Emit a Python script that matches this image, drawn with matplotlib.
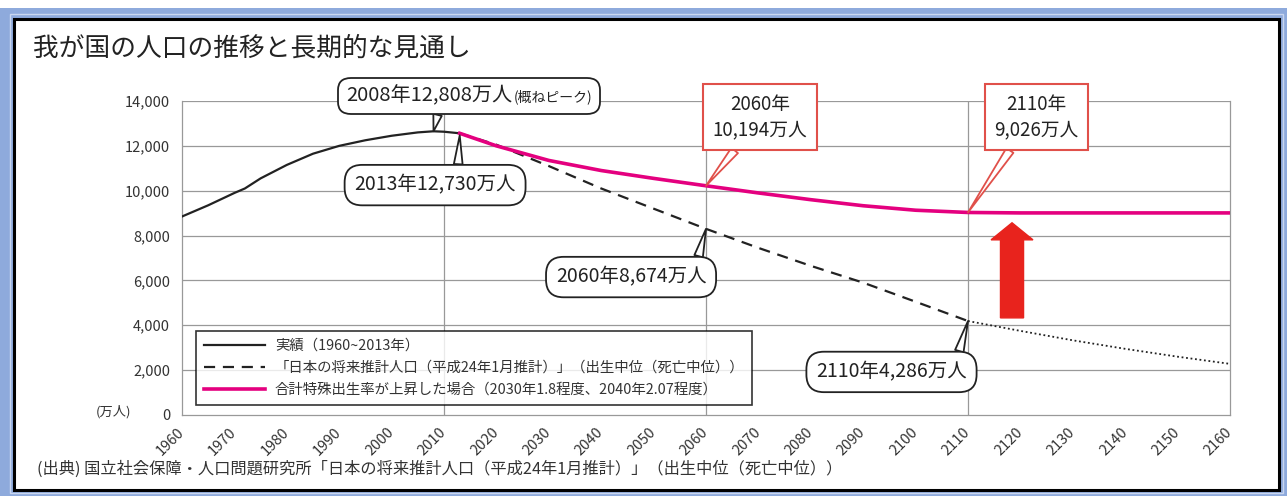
import matplotlib
matplotlib.use("Agg")
import matplotlib.pyplot as plt
from matplotlib.patches import Rectangle, FancyArrow
from matplotlib.offsetbox import TextArea, HPacker, AnnotationBbox
from matplotlib.ticker import FuncFormatter

plt.rcParams['font.family'] = ['Noto Sans CJK JP', 'DejaVu Sans']

# data (万人)
years_actual = [1960, 1965, 1970, 1972, 1975, 1980, 1985, 1990, 1995, 2000, 2005, 2008, 2010, 2013]
pop_actual = [8850, 9350, 9900, 10100, 10550, 11150, 11650, 12000, 12250, 12450, 12600, 12650, 12630, 12560]

years_proj = [2013, 2020, 2030, 2040, 2050, 2060, 2070, 2080, 2090, 2100, 2110]
pop_proj = [12560, 12050, 11100, 10100, 9200, 8300, 7450, 6650, 5900, 5050, 4190]

years_ext = [2110, 2120, 2130, 2140, 2150, 2160]
pop_ext = [4190, 3750, 3330, 2950, 2600, 2280]

years_up = [2013, 2020, 2030, 2040, 2050, 2060, 2070, 2080, 2090, 2100, 2110, 2120, 2130, 2140, 2150, 2160]
pop_up = [12560, 12000, 11350, 10900, 10550, 10220, 9900, 9600, 9330, 9130, 9030, 9010, 9010, 9010, 9010, 9010]

legend_labels = ["実績（1960~2013年）",
                 "「日本の将来推計人口（平成24年1月推計）」（出生中位（死亡中位））",
                 "合計特殊出生率が上昇した場合（2030年1.8程度、2040年2.07程度）"]

W, H = 1287, 496
fig = plt.figure(figsize=(W / 100, H / 100), dpi=100)


def fx(px):
    return px / W


def fy(py):
    return 1 - py / H


# frame: blue outer, black inner
fig.patches.append(Rectangle((0, fy(496)), 1, fy(8) - fy(496), transform=fig.transFigure,
                             facecolor='#8eaadc', edgecolor='none', zorder=0))
fig.patches.append(Rectangle((fx(10), fy(493)), fx(1283) - fx(10), fy(14) - fy(493), transform=fig.transFigure,
                             facecolor='none', edgecolor='#c9d6ef', lw=1, zorder=1))
fig.patches.append(Rectangle((fx(14), fy(490)), fx(1279) - fx(14), fy(19) - fy(490), transform=fig.transFigure,
                             facecolor='white', edgecolor='black', lw=2.2, zorder=2))

ax = fig.add_axes([fx(182), fy(415), fx(1230) - fx(182), fy(101) - fy(415)])
ax.set_zorder(3)
ax.set_facecolor('white')

l_act, = ax.plot(years_actual, pop_actual, color='#222222', lw=1.6, zorder=4)
l_proj, = ax.plot(years_proj, pop_proj, color='#222222', lw=1.6, ls=(0, (5, 3.5)), zorder=4)
ax.plot(years_ext, pop_ext, color='#222222', lw=1.3, ls=(0, (1, 1.5)), zorder=4)
l_up, = ax.plot(years_up, pop_up, color='#e4007f', lw=2.6, zorder=5)

ax.set_xlim(1960, 2160)
ax.set_ylim(0, 14000)
ax.set_xticks(range(1960, 2161, 10))
ax.set_yticks(range(0, 14001, 2000))
ax.yaxis.set_major_formatter(FuncFormatter(lambda v, p: f"{int(v):,}"))
ax.tick_params(length=0)
ax.tick_params(axis='y', pad=8.6, labelsize=10.5, labelcolor='#333333')
ax.tick_params(axis='x', pad=11, labelsize=10.5, labelcolor='#333333')
for lab in ax.get_xticklabels():
    lab.set_rotation(45)
    lab.set_ha('right')
    lab.set_va('center')
    lab.set_rotation_mode('anchor')

for v in range(2000, 14001, 2000):
    ax.axhline(v, color='#999999', lw=0.9, zorder=1)
for yr in [2010, 2060, 2110]:
    ax.axvline(yr, color='#999999', lw=0.9, zorder=1)
for s in ax.spines.values():
    s.set_color('#999999')
    s.set_linewidth(0.9)
ax.spines['top'].set_visible(False)

# legend
leg = ax.legend([l_act, l_proj, l_up], legend_labels, loc='upper left', bbox_to_anchor=(0.0134, 0.2675),
                borderaxespad=0, frameon=True, fancybox=False, edgecolor='black', fontsize=10.4,
                handlelength=4.2, labelspacing=0.55, borderpad=0.55, handletextpad=0.7)
leg.get_frame().set_linewidth(1.2)
leg.set_zorder(6)
for t in leg.get_texts():
    t.set_color('#333333')

# red arrow
ax.add_patch(FancyArrow(2118.4, 4330, 0, 4240, width=4.4, head_width=8.0, head_length=760,
                        length_includes_head=True, color='#e8231d', zorder=6))

# black rounded callouts
black_box = dict(boxstyle='round,pad=0.5,rounding_size=0.9', fc='white', ec='#222222', lw=1.3)


def wedge(color, rel):
    return dict(arrowstyle='wedge,tail_width=0.45', fc='white', ec=color, lw=1.3,
                relpos=rel, shrinkA=0, shrinkB=0)


pack = HPacker(children=[TextArea("2008年12,808万人", textprops=dict(size=14.5, color='#222222')),
                         TextArea("(概ねピーク)", textprops=dict(size=10, color='#222222'))],
               align='baseline', pad=0, sep=1)
ab = AnnotationBbox(pack, (2008, 12650), xybox=(2014.8, 14220), xycoords='data', boxcoords='data',
                    bboxprops=dict(boxstyle='round,pad=0.55,rounding_size=0.9', fc='white', ec='#222222', lw=1.3),
                    arrowprops=wedge('#222222', (0.38, 0)), annotation_clip=False, zorder=7)
ax.add_artist(ab)

ax.annotate("2013年12,730万人", xy=(2013, 12470), xytext=(2008.3, 10250), ha='center', va='center',
            size=14, color='#222222', bbox=black_box, arrowprops=wedge('#222222', (0.64, 1)),
            annotation_clip=False, zorder=7)
ax.annotate("2060年8,674万人", xy=(2060, 8300), xytext=(2045.7, 6150), ha='center', va='center',
            size=14, color='#222222', bbox=black_box, arrowprops=wedge('#222222', (0.93, 1)),
            annotation_clip=False, zorder=7)
ax.annotate("2110年4,286万人", xy=(2110, 4190), xytext=(2095.4, 1920), ha='center', va='center',
            size=14, color='#222222', bbox=black_box, arrowprops=wedge('#222222', (0.93, 1)),
            annotation_clip=False, zorder=7)

# red square callouts
red_box = dict(boxstyle='square,pad=0.5', fc='white', ec='#e0504a', lw=1.5)
ax.annotate("2060年\n10,194万人", xy=(2060, 10220), xytext=(2070.3, 13290), ha='center', va='center',
            size=13.5, color='#222222', multialignment='center', linespacing=1.3, bbox=red_box,
            arrowprops=wedge('#e0504a', (0.32, 0)), annotation_clip=False, zorder=7)
ax.annotate("2110年\n9,026万人", xy=(2110, 9030), xytext=(2123.0, 13290), ha='center', va='center',
            size=13.5, color='#222222', multialignment='center', linespacing=1.3, bbox=red_box,
            arrowprops=wedge('#e0504a', (0.27, 0)), annotation_clip=False, zorder=7)

# texts
fig.text(fx(33), fy(48), "我が国の人口の推移と長期的な見通し", size=18.5, color='#222222',
         ha='left', va='center', zorder=10)
fig.text(fx(113), fy(412), "(万人)", size=9.5, color='#333333', ha='center', va='center', zorder=10)
fig.text(fx(37), fy(469),
         "(出典) 国立社会保障・人口問題研究所「日本の将来推計人口（平成24年1月推計）」（出生中位（死亡中位））",
         size=11.7, color='#333333', ha='left', va='center', zorder=10)

fig.savefig("out.png", dpi=100)
